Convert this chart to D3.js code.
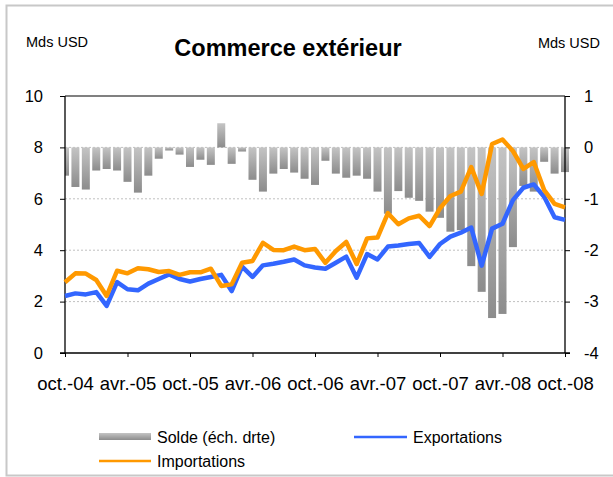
<!DOCTYPE html>
<html><head><meta charset="utf-8">
<script src="https://cdn.jsdelivr.net/npm/d3@7"></script>
<style>
html,body{margin:0;padding:0;background:#fff;}
svg{display:block;font-family:"Liberation Sans",Arial,sans-serif;}
</style></head>
<body>
<svg id="chart" width="613" height="477"></svg>
<script>
const months = ["oct.-04","nov.-04","déc.-04","janv.-05","févr.-05","mars-05","avr.-05","mai-05","juin-05","juil.-05","août-05","sept.-05",
"oct.-05","nov.-05","déc.-05","janv.-06","févr.-06","mars-06","avr.-06","mai-06","juin-06","juil.-06","août-06","sept.-06",
"oct.-06","nov.-06","déc.-06","janv.-07","févr.-07","mars-07","avr.-07","mai-07","juin-07","juil.-07","août-07","sept.-07",
"oct.-07","nov.-07","déc.-07","janv.-08","févr.-08","mars-08","avr.-08","mai-08","juin-08","juil.-08","août-08","sept.-08","oct.-08"];
const tickLabels = ["oct.-04","avr.-05","oct.-05","avr.-06","oct.-06","avr.-07","oct.-07","avr.-08","oct.-08"];
const solde = [-0.55,-0.77,-0.82,-0.45,-0.42,-0.45,-0.67,-0.88,-0.55,-0.22,-0.06,-0.14,-0.38,-0.24,-0.34,0.47,-0.32,-0.08,-0.63,-0.86,
-0.51,-0.42,-0.49,-0.61,-0.73,-0.26,-0.51,-0.59,-0.55,-0.61,-0.86,-1.29,-0.85,-0.98,-1.04,-1.25,-1.37,-1.64,-1.61,-2.31,
-2.81,-3.32,-3.24,-1.94,-0.75,-0.86,-0.28,-0.51,-0.48];
const exportations = [2.22,2.32,2.28,2.37,1.83,2.76,2.48,2.44,2.70,2.88,3.06,2.88,2.78,2.88,2.96,3.04,2.41,3.36,2.96,3.41,
3.47,3.55,3.64,3.41,3.33,3.28,3.51,3.75,2.93,3.85,3.64,4.14,4.18,4.24,4.28,3.74,4.24,4.53,4.68,4.88,
3.40,4.84,5.03,5.95,6.43,6.56,6.08,5.28,5.18];
const importations = [2.75,3.10,3.09,2.84,2.22,3.20,3.10,3.30,3.26,3.15,3.19,3.04,3.14,3.14,3.28,2.61,2.67,3.51,3.58,4.29,
4.01,4.00,4.14,4.00,4.05,3.51,3.97,4.32,3.46,4.46,4.49,5.44,5.01,5.24,5.34,4.94,5.63,6.11,6.28,7.23,
6.19,8.13,8.31,7.86,7.16,7.43,6.34,5.80,5.67];
const leftTicks = [0,2,4,6,8,10];
const rightTicks = [-4,-3,-2,-1,0,1];

const svg = d3.select("#chart");
const L = 65, R = 565, T = 96, B = 353;
const x = d3.scalePoint().domain(months).range([L, R]);
const yL = d3.scaleLinear().domain([0, 10]).range([B, T]);
const yR = d3.scaleLinear().domain([-4, 1]).range([B, T]);

// frame
svg.append("rect").attr("x",6.5).attr("y",5.5).attr("width",610).attr("height",470)
  .attr("fill","none").attr("stroke","#c8c8c8").attr("stroke-width",2);

const defs = svg.append("defs");
const g = defs.append("linearGradient").attr("id","barGrad").attr("x1",0).attr("y1",0).attr("x2",0).attr("y2",1);
g.append("stop").attr("offset","0%").attr("stop-color","#c4c4c4");
g.append("stop").attr("offset","100%").attr("stop-color","#8c8c8c");
defs.append("clipPath").attr("id","clipL").append("rect").attr("x",L).attr("y",0).attr("width",560).attr("height",477);

// gridlines
svg.append("g").selectAll("line").data([2,4,6,8]).join("line")
  .attr("x1",L).attr("x2",R).attr("y1",d=>yL(d)).attr("y2",d=>yL(d))
  .attr("stroke","#c0c0c0").attr("stroke-width",1).attr("stroke-dasharray","2,2");

// top border
svg.append("line").attr("x1",L).attr("x2",R).attr("y1",T).attr("y2",T).attr("stroke","#808080").attr("stroke-width",2);

// bars
const bw = 8;
svg.append("g").attr("clip-path","url(#clipL)").selectAll("rect").data(solde).join("rect")
  .attr("x",(d,i)=>x(months[i]) - bw/2).attr("width",bw)
  .attr("y",d=>d>=0 ? yR(d) : yR(0)).attr("height",d=>Math.abs(yR(d)-yR(0)))
  .attr("fill","url(#barGrad)");

// axes
const axL = svg.append("g").attr("transform",`translate(${L},0)`)
  .call(d3.axisLeft(yL).tickValues(leftTicks).tickSize(5).tickPadding(17).tickFormat(d3.format("d")));
const axR = svg.append("g").attr("transform",`translate(${R},0)`)
  .call(d3.axisRight(yR).tickValues(rightTicks).tickSize(5).tickPadding(14).tickFormat(d=>d<0?"-"+Math.abs(d):String(d)));
const tickIdx = tickLabels.map(t=>months.indexOf(t));
const axB = svg.append("g").attr("transform",`translate(0,${B})`)
  .call(d3.axisBottom(x).tickValues(tickLabels).tickSize(4).tickPadding(20));
[axL,axR,axB].forEach(a=>{
  a.select(".domain").remove();
  a.selectAll(".tick line").attr("stroke","#000");
  a.selectAll("text").attr("fill","#000").attr("font-family","'Liberation Sans',Arial,sans-serif");
});
axL.selectAll("text").attr("font-size",16.5);
axR.selectAll("text").attr("font-size",16.5);
axB.selectAll("text").attr("font-size",18.5);
svg.append("line").attr("x1",L).attr("x2",L).attr("y1",T).attr("y2",B).attr("stroke","#000").attr("stroke-width",1.3);
svg.append("line").attr("x1",R).attr("x2",R).attr("y1",T).attr("y2",B).attr("stroke","#000").attr("stroke-width",1.3);
svg.append("line").attr("x1",L-5).attr("x2",R+5).attr("y1",B).attr("y2",B).attr("stroke","#000").attr("stroke-width",1.3);

// lines
const lineL = d3.line().x((d,i)=>x(months[i])).y(d=>yL(d));
svg.append("path").datum(exportations).attr("d",lineL).attr("fill","none")
  .attr("stroke","#3366ff").attr("stroke-width",4.5).attr("stroke-linejoin","round");
svg.append("path").datum(importations).attr("d",lineL).attr("fill","none")
  .attr("stroke","#ff9900").attr("stroke-width",4.5).attr("stroke-linejoin","round");

// titles
svg.append("text").attr("x",288).attr("y",56).attr("text-anchor","middle")
  .attr("font-size",23.5).attr("font-weight","bold").text("Commerce extérieur");
svg.append("text").attr("x",26).attr("y",47).attr("font-size",14.5).text("Mds USD");
svg.append("text").attr("x",600).attr("y",48).attr("text-anchor","end").attr("font-size",14.5).text("Mds USD");

// legend
const lg = svg.append("g").attr("font-size",16);
lg.append("rect").attr("x",99).attr("y",433).attr("width",52).attr("height",7).attr("fill","url(#barGrad)");
lg.append("text").attr("x",157).attr("y",442.5).text("Solde (éch. drte)");
lg.append("line").attr("x1",354).attr("x2",407).attr("y1",437).attr("y2",437).attr("stroke","#3366ff").attr("stroke-width",2.5);
lg.append("text").attr("x",413).attr("y",442.5).text("Exportations");
lg.append("line").attr("x1",99).attr("x2",151).attr("y1",461).attr("y2",461).attr("stroke","#ff9900").attr("stroke-width",2.5);
lg.append("text").attr("x",157).attr("y",466.5).text("Importations");
</script>
</body></html>
